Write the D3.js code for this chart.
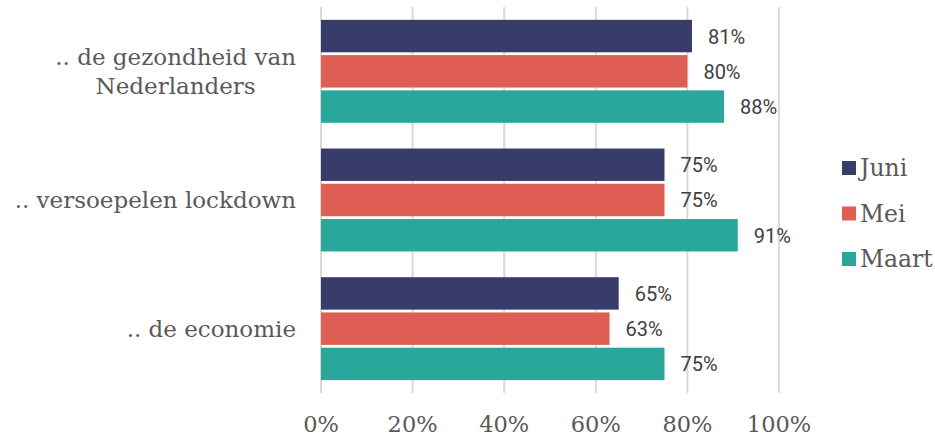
<!DOCTYPE html>
<html>
<head>
<meta charset="utf-8">
<script src="https://d3js.org/d3.v7.min.js"></script>
<style>
  body { margin: 0; background: #fff; }
</style>
</head>
<body>
<div id="chart"></div>
<script>
var categories = [[".. de gezondheid van", "Nederlanders"], [".. versoepelen lockdown"], [".. de economie"]];
var series = ["Juni", "Mei", "Maart"];
var juni  = [81, 75, 65];
var mei   = [80, 75, 63];
var maart = [88, 91, 75];
var ticks = [0, 20, 40, 60, 80, 100];
var colors = ["#383c69", "#df5e53", "#2aa79b"];

var values = [juni, mei, maart];
var W = 935, H = 436;
var margin = {left: 321, right: 156, top: 7, bottom: 43};

var svg = d3.select("#chart").append("svg")
    .attr("width", W).attr("height", H);

var x = d3.scaleLinear().domain([0, 100]).range([margin.left, W - margin.right]);
var y = d3.scaleBand().domain(d3.range(categories.length))
    .range([margin.top, H - margin.bottom]).paddingInner(0.2).paddingOuter(0.1);
var y1 = d3.scaleBand().domain(series).range([0, y.bandwidth()]).paddingInner(0.08);

// rasterlijnen
svg.selectAll("line.grid").data(ticks).enter().append("line")
    .attr("x1", d => x(d)).attr("x2", d => x(d))
    .attr("y1", margin.top).attr("y2", H - margin.bottom)
    .attr("stroke", "#d9d9d9").attr("stroke-width", 2);

// as labels
svg.selectAll("text.tick").data(ticks).enter().append("text")
    .attr("x", d => x(d)).attr("y", 432)
    .attr("text-anchor", "middle")
    .attr("font-family", "DejaVu Serif").attr("font-size", "22.5px")
    .attr("fill", "#595959")
    .text(d => d + "%");

var groups = svg.selectAll("g.cat").data(categories).enter().append("g")
    .attr("transform", (d, i) => "translate(0," + y(i) + ")");

groups.each(function(cat, i) {
  var g = d3.select(this);
  series.forEach(function(s, j) {
    var v = values[j][i];
    g.append("rect")
      .attr("x", x(0)).attr("y", y1(s))
      .attr("width", x(v) - x(0)).attr("height", y1.bandwidth())
      .attr("fill", colors[j]);
    g.append("text")
      .attr("x", x(v) + 16).attr("y", y1(s) + y1.bandwidth() / 2 + 7.5)
      .attr("font-family", "Roboto").attr("font-size", "20px")
      .attr("fill", "#404040")
      .text(v + "%");
  });
  var t = g.append("text")
    .attr("text-anchor", "middle")
    .attr("font-family", "DejaVu Serif").attr("font-size", "23px")
    .attr("fill", "#595959");
  var n = cat.length;
  var spans = cat.map(function(line, k) {
    return t.append("tspan")
      .attr("y", y.bandwidth() / 2 + 8 + (k - (n - 1) / 2) * 29)
      .text(line);
  });
  // rechts uitlijnen op 296, regels onderling gecentreerd
  var wmax = d3.max(spans, sp => sp.node().getComputedTextLength());
  spans.forEach(sp => sp.attr("x", 296 - wmax / 2));
});

// legenda
var leg = svg.selectAll("g.leg").data(series).enter().append("g")
    .attr("transform", (d, i) => "translate(842," + (168 + i * 45.5) + ")");
leg.append("rect").attr("x", 0).attr("y", -7).attr("width", 14).attr("height", 14)
    .attr("fill", (d, i) => colors[i]);
leg.append("text").attr("x", 18).attr("y", 8)
    .attr("font-family", "DejaVu Serif").attr("font-size", "23.5px")
    .attr("fill", "#595959")
    .text(d => d);
</script>
</body>
</html>
